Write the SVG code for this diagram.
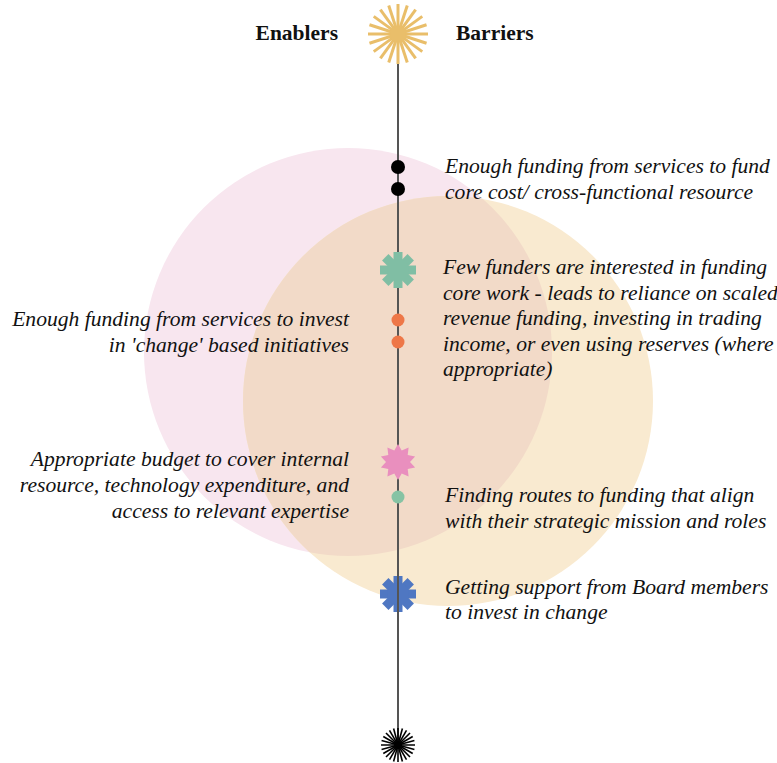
<svg xmlns="http://www.w3.org/2000/svg" width="777" height="763" viewBox="0 0 777 763">
<style>
.t{font-family:"Liberation Serif","DejaVu Serif",serif;font-style:italic;font-size:21.6px;fill:#111}
.r{text-anchor:end}
.h{font-family:"Liberation Serif","DejaVu Serif",serif;font-weight:bold;font-size:21.5px;fill:#111}
</style>
<defs>
<clipPath id="pc"><circle cx="348" cy="352" r="204"/></clipPath>
<g id="arm"><rect x="-4.5" y="-18" width="9" height="36"/></g>
</defs>
<g id="venn">
<circle cx="348" cy="352" r="204" fill="#F8E6EF"/>
<circle cx="448" cy="401" r="205" fill="#F9EAD0"/>
<circle cx="448" cy="401" r="205" fill="#F2DAC8" clip-path="url(#pc)"/>
</g>
<g id="connectors">
<line x1="398" y1="55" x2="398" y2="745" stroke="#555" stroke-width="2"/>
</g>
<g id="header">
<text class="h" x="338" y="40" text-anchor="end">Enablers</text>
<text class="h" x="456" y="40">Barriers</text>
</g>
<g id="sun" stroke="#E9BE6A" stroke-width="3" stroke-linecap="butt">
<g transform="translate(398,34)">
<line x1="-30" y1="0" x2="30" y2="0"/>
<line x1="-30" y1="0" x2="30" y2="0" transform="rotate(18)"/>
<line x1="-30" y1="0" x2="30" y2="0" transform="rotate(36)"/>
<line x1="-30" y1="0" x2="30" y2="0" transform="rotate(54)"/>
<line x1="-30" y1="0" x2="30" y2="0" transform="rotate(72)"/>
<line x1="-30" y1="0" x2="30" y2="0" transform="rotate(90)"/>
<line x1="-30" y1="0" x2="30" y2="0" transform="rotate(108)"/>
<line x1="-30" y1="0" x2="30" y2="0" transform="rotate(126)"/>
<line x1="-30" y1="0" x2="30" y2="0" transform="rotate(144)"/>
<line x1="-30" y1="0" x2="30" y2="0" transform="rotate(162)"/>
<circle r="8" fill="#E9BE6A" stroke="none"/>
</g>
</g>
<g id="n1">
<circle cx="398" cy="167" r="7" fill="#000"/>
<circle cx="398" cy="189" r="7" fill="#000"/>
<text class="t" x="445" y="173">Enough funding from services to fund</text>
<text class="t" x="445" y="199">core cost/ cross-functional resource</text>
</g>
<g id="n2" fill="#80BEA4">
<g transform="translate(398,270)">
<use href="#arm"/><use href="#arm" transform="rotate(45)"/><use href="#arm" transform="rotate(90)"/><use href="#arm" transform="rotate(135)"/>
<circle r="11"/>
</g>
<text class="t" x="443" y="274">Few funders are interested in funding</text>
<text class="t" x="443" y="300">core work - leads to reliance on scaled</text>
<text class="t" x="443" y="325">revenue funding, investing in trading</text>
<text class="t" x="443" y="351">income, or even using reserves (where</text>
<text class="t" x="443" y="376">appropriate)</text>
</g>
<g id="n3">
<circle cx="398" cy="320" r="6.5" fill="#EE7748"/>
<circle cx="398" cy="342" r="6.5" fill="#EE7748"/>
<text class="t r" x="349" y="326">Enough funding from services to invest</text>
<text class="t r" x="349" y="352">in 'change' based initiatives</text>
</g>
<g id="n4">
<polygon fill="#E98FBE" transform="translate(398,462)" points="0,-18 3.7,-11.4 10.6,-14.6 9.7,-7.1 17.1,-5.6 12,0 17.1,5.6 9.7,7.1 10.6,14.6 3.7,11.4 0,18 -3.7,11.4 -10.6,14.6 -9.7,7.1 -17.1,5.6 -12,0 -17.1,-5.6 -9.7,-7.1 -10.6,-14.6 -3.7,-11.4"/>
<text class="t r" x="349" y="466">Appropriate budget to cover internal</text>
<text class="t r" x="349" y="492">resource, technology expenditure, and</text>
<text class="t r" x="349" y="518">access to relevant expertise</text>
</g>
<g id="n5">
<circle cx="398" cy="497" r="6.5" fill="#86C3A4"/>
<text class="t" x="445" y="502">Finding routes to funding that align</text>
<text class="t" x="445" y="528">with their strategic mission and roles</text>
</g>
<g id="n6" fill="#4F77C2">
<g transform="translate(398,594)">
<use href="#arm"/><use href="#arm" transform="rotate(45)"/><use href="#arm" transform="rotate(90)"/><use href="#arm" transform="rotate(135)"/>
<circle r="11"/>
</g>
<line x1="398" y1="576" x2="398" y2="612" stroke="#555" stroke-width="2"/>
<text class="t" x="445" y="594">Getting support from Board members</text>
<text class="t" x="445" y="619">to invest in change</text>
</g>
<g id="end" stroke="#000" stroke-width="1.6">
<g transform="translate(398,745)">
<line x1="-17" y1="0" x2="17" y2="0"/>
<line x1="-17" y1="0" x2="17" y2="0" transform="rotate(15)"/>
<line x1="-17" y1="0" x2="17" y2="0" transform="rotate(30)"/>
<line x1="-17" y1="0" x2="17" y2="0" transform="rotate(45)"/>
<line x1="-17" y1="0" x2="17" y2="0" transform="rotate(60)"/>
<line x1="-17" y1="0" x2="17" y2="0" transform="rotate(75)"/>
<line x1="-17" y1="0" x2="17" y2="0" transform="rotate(90)"/>
<line x1="-17" y1="0" x2="17" y2="0" transform="rotate(105)"/>
<line x1="-17" y1="0" x2="17" y2="0" transform="rotate(120)"/>
<line x1="-17" y1="0" x2="17" y2="0" transform="rotate(135)"/>
<line x1="-17" y1="0" x2="17" y2="0" transform="rotate(150)"/>
<line x1="-17" y1="0" x2="17" y2="0" transform="rotate(165)"/>
<circle r="4" fill="#000" stroke="none"/>
</g>
</g>
</svg>
